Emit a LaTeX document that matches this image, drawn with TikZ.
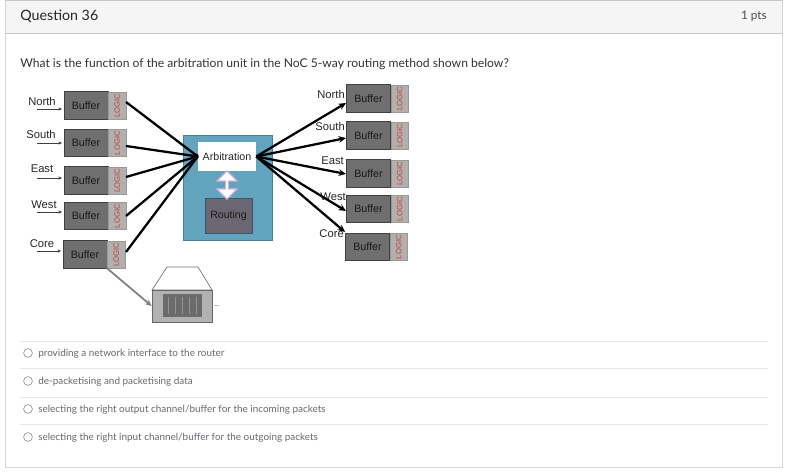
\documentclass[tikz,border=0pt]{standalone}
\usepackage{fontspec}
\setmainfont{Lato}
\newfontfamily\arialf{Liberation Sans}
\usetikzlibrary{arrows.meta,shapes.arrows,positioning}
\definecolor{panelline}{HTML}{D3D6D8}
\definecolor{headbg}{HTML}{F5F5F5}
\definecolor{bufgray}{HTML}{6F6F6F}
\definecolor{logicgray}{HTML}{B3AFAC}
\definecolor{teal}{HTML}{62A4BE}
\definecolor{tealedge}{HTML}{4A7F9A}
\definecolor{routegray}{HTML}{6C6873}
\definecolor{optline}{HTML}{E8E8E8}
\definecolor{opttext}{HTML}{666A6E}
\definecolor{logicred}{HTML}{C2413F}
\tikzset{
  x=0.75pt,y=-0.75pt,
  bufbox/.style={draw=black!75,line width=0.5pt,fill=bufgray,minimum width=33pt,minimum height=20.5pt,inner sep=0pt,font=\arialf\fontsize{8}{9}\selectfont,text=black!90},
  logicbox/.style={draw=black!40,line width=0.3pt,fill=logicgray,minimum width=13pt,minimum height=20.5pt,inner sep=0pt},
  logictxt/.style={rotate=90,text=logicred,font=\arialf\fontsize{5.8}{6}\selectfont,inner sep=0pt},
  portlabel/.style={font=\arialf\fontsize{8.4}{9}\selectfont,text=black!85,inner sep=0pt},
  thick link/.style={line width=1.7pt,black,-{Stealth[length=5.5pt,width=5pt]}},
  plain link/.style={line width=1.7pt,black},
  in tick/.style={line width=0.4pt,black!75,-{Stealth[length=2.6pt,width=2.4pt]}},
  opt/.style={anchor=west,font=\fontsize{7.45}{9}\selectfont,text=opttext,inner sep=0pt},
  radio/.style={circle,draw=black!45,line width=0.45pt,minimum size=6.6pt,inner sep=0pt},
  rule/.style={draw=optline,line width=0.6pt},
}
\begin{document}
\begin{tikzpicture}
\useasboundingbox (0,0) rectangle (800,474);
\fill[white] (0,0) rectangle (800,474);
% panel
\fill[headbg] (5,0) rectangle (782,33);
\draw[panelline,line width=0.6pt] (5,0) -- (5,467.5) -- (782,467.5) -- (782,0);
\draw[black!22,line width=0.7pt] (5,33) -- (782,33);
\draw[black!22,line width=0.7pt] (5,0.4) -- (782,0.4);
\node[anchor=west,inner sep=0pt,font=\fontsize{10.7}{12}\selectfont,text=black!85] (qnum) at (20,16.5) {Question 36};
\node[anchor=east,inner sep=0pt,font=\fontsize{8.8}{11}\selectfont,text=black!70] (pts) at (767,16.5) {1 pts};
\node[anchor=west,inner sep=0pt,font=\fontsize{9.1}{11}\selectfont,text=black!80] (qtext) at (20,64) {What is the function of the arbitration unit in the NoC 5-way routing method shown below?};
% left buffers
\foreach \n/\xx/\yy/\lab/\lx/\ly/\ty in {
  ln/86/105.5/North/42/101.5/109,
  ls/86/143/South/41/134.5/143,
  le/86/180.5/East/42/168.5/178,
  lw/86/216/West/44/204.5/212,
  lc/85/254.5/Core/42/243.5/251}{
  \node[bufbox] (\n buf) at (\xx,\yy) {Buffer};
  \node[logicbox,right=0pt of \n buf] (\n log) {};
  \node[logictxt] (\n txt) at (\n log) {LOGIC};
  \node[portlabel] (\n lab) at (\lx,\ly) {\lab};
  \coordinate (\n tick) at (37,\ty);
  \coordinate (\n tip) at (\xx-24,\ty);
  \draw[in tick] (\n tick) -- (\n tip);
}
% right buffers
\foreach \n/\xx/\yy/\lab/\ex/\ly in {
  rn/368.5/98.5/North/345/94,
  rs/368.5/135.5/South/345/126,
  re/368.5/173.5/East/344/161,
  rw/368.5/209/West/346/197,
  rc/367.5/247/Core/344/234}{
  \node[portlabel,anchor=east] (\n lab) at (\ex,\ly) {\lab};
  \node[bufbox] (\n buf) at (\xx,\yy) {Buffer};
  \node[logicbox,right=0pt of \n buf] (\n log) {};
  \node[logictxt] (\n txt) at (\n log) {LOGIC};
}
% router
\node[draw=tealedge,line width=0.7pt,fill=teal,minimum width=66.75pt,minimum height=78.75pt,inner sep=0pt] (router) at (227.5,187.5) {};
\node[fill=white,minimum width=43.5pt,minimum height=21.75pt,inner sep=0pt,font=\arialf\fontsize{8}{9}\selectfont,text=black!85] (arb) at (227,156.5) {Arbitration};
\node[draw=tealedge!70!black,line width=0.7pt,fill=routegray,minimum width=35.25pt,minimum height=26.25pt,inner sep=0pt,font=\arialf\fontsize{7.9}{9}\selectfont,text=black!90] (rout) at (228.5,216) {Routing};
\node[double arrow,draw=violet!30,line width=0.8pt,fill=white,rotate=90,minimum height=21pt,minimum width=15pt,double arrow head extend=2.4pt,double arrow head indent=0pt,inner sep=0pt] (dbl) at (227,185) {};
% links in
\foreach \n/\yy in {ln/102,ls/146,le/177,lw/216,lc/252}{
  \coordinate (\n out) at (126,\yy);
  \draw[plain link] (\n out) -- (arb.west);
}
\fill[black] (arb.west) ++(-2,0) circle (3);
% links out
\foreach \t/\px/\py in {a/346/103,b/346/138,c/346/174,d/346/211,e/345/232}{
  \coordinate (out\t) at (\px,\py);
  \draw[thick link] (arb.east) -- (out\t);
}
% device
\draw[draw=black!55,line width=0.5pt,fill=white] (152,290) -- (167,267) -- (198,267) -- (212,290) -- cycle;
\node[draw=black!60,line width=0.5pt,fill=black!30,minimum width=45pt,minimum height=24pt,inner sep=0pt] (dev) at (182,306) {};
\node[fill=black!58,minimum width=29.25pt,minimum height=17.25pt,inner sep=0pt] (devin) at (182.5,305.5) {};
\foreach \xs in {168,175,182,189,196} \draw[black!42,line width=0.4pt] (\xs,297) -- (\xs,314);
\draw[black!50,line width=1.3pt,-{Stealth[length=5pt,width=4.5pt]}] (lcbuf.south east) -- (dev.west);
\draw[black!25,line width=0.5pt] (dev.east) ++(2,-1) -- ++(5,0);
% options
\draw[rule] (20,341) -- (768,341);
\draw[rule] (20,368) -- (768,368);
\draw[rule] (20,397) -- (768,397);
\draw[rule] (20,424) -- (768,424);
\node[radio] (r1) at (28,353) {};
\node[radio] (r2) at (28,381) {};
\node[radio] (r3) at (28,409) {};
\node[radio] (r4) at (28,437) {};
\node[opt] (o1) at (38,354) {providing a network interface to the router};
\node[opt] (o2) at (38,382) {de-packetising and packetising data};
\node[opt] (o3) at (38,410) {selecting the right output channel/buffer for the incoming packets};
\node[opt] (o4) at (38,438) {selecting the right input channel/buffer for the outgoing packets};
\end{tikzpicture}
\end{document}
